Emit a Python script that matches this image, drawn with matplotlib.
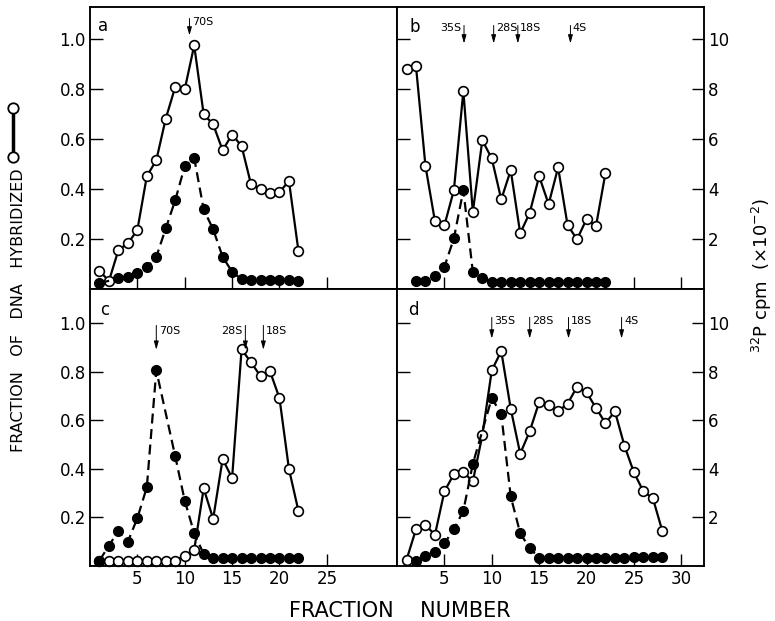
import matplotlib
matplotlib.use('Agg')
import matplotlib.pyplot as plt
from matplotlib.lines import Line2D

# ---- data ----
# open circles: fraction of DNA hybridized (left scale)
# filled circles: 32P cpm (x10^-2, right scale)

# panel a
hyb_frac_a = list(range(1, 23))
hyb_a = [0.073, 0.032, 0.156, 0.183, 0.236, 0.452, 0.516, 0.683, 0.81, 0.80, 0.976,
         0.70, 0.66, 0.556, 0.619, 0.573, 0.419, 0.40, 0.385, 0.388, 0.433, 0.153]
cpm_frac_a = [1] + list(range(3, 23))
cpm_a = [0.23, 0.43, 0.49, 0.63, 0.87, 1.29, 2.43, 3.56, 4.92, 5.25, 3.19,
         2.39, 1.29, 0.69, 0.39, 0.36, 0.36, 0.36, 0.36, 0.36, 0.32]
mk_name_a = ['70S']
mk_pos_a = [10.5]
mk_side_a = ['right']

# panel b
hyb_frac_b = list(range(1, 23))
hyb_b = [0.88, 0.893, 0.493, 0.272, 0.255, 0.396, 0.793, 0.309, 0.596, 0.523, 0.359,
         0.476, 0.223, 0.305, 0.452, 0.34, 0.487, 0.256, 0.199, 0.28, 0.252, 0.465]
cpm_frac_b = list(range(2, 23))
cpm_b = [0.32, 0.32, 0.52, 0.89, 2.03, 3.96, 0.69, 0.43, 0.29, 0.29, 0.29,
         0.29, 0.29, 0.29, 0.29, 0.29, 0.29, 0.29, 0.29, 0.29, 0.29]
mk_name_b = ['35S', '28S', '18S', '4S']
mk_pos_b = [7.07, 10.2, 12.75, 18.3]
mk_side_b = ['left', 'right', 'right', 'right']

# panel c
hyb_frac_c = list(range(1, 23))
hyb_c = [0.022, 0.022, 0.022, 0.022, 0.022, 0.022, 0.022, 0.022, 0.022, 0.043, 0.066,
         0.319, 0.194, 0.44, 0.362, 0.891, 0.838, 0.781, 0.801, 0.691, 0.399, 0.227]
cpm_frac_c = [1, 2, 3, 4, 5, 6, 7] + list(range(9, 23))
cpm_c = [0.22, 0.84, 1.44, 1.00, 1.97, 3.24, 8.05, 4.51, 2.69, 1.35, 0.49,
         0.32, 0.32, 0.32, 0.32, 0.32, 0.32, 0.32, 0.32, 0.32, 0.32]
mk_name_c = ['70S', '28S', '18S']
mk_pos_c = [7.0, 16.4, 18.3]
mk_side_c = ['right', 'left', 'right']

# panel d
hyb_frac_d = list(range(1, 29))
hyb_d = [0.025, 0.151, 0.169, 0.128, 0.307, 0.378, 0.386, 0.348, 0.537, 0.805, 0.884,
         0.647, 0.462, 0.554, 0.674, 0.661, 0.636, 0.668, 0.737, 0.715, 0.65, 0.588,
         0.636, 0.495, 0.385, 0.307, 0.279, 0.144]
cpm_frac_d = [2, 3, 4, 5, 6, 7, 8] + list(range(10, 29))
cpm_d = [0.22, 0.43, 0.59, 0.93, 1.51, 2.27, 4.2, 6.91, 6.25, 2.86, 1.35, 0.73,
         0.34, 0.34, 0.34, 0.34, 0.34, 0.34, 0.34, 0.34, 0.34, 0.34,
         0.38, 0.38, 0.38, 0.38]
mk_name_d = ['35S', '28S', '18S', '4S']
mk_pos_d = [10.0, 14.0, 18.1, 23.7]
mk_side_d = ['right', 'right', 'right', 'right']

left_ticks = [0.2, 0.4, 0.6, 0.8, 1.0]
left_ticklabels = ['0.2', '0.4', '0.6', '0.8', '1.0']
right_ticks = [2, 4, 6, 8, 10]

fig = plt.figure(figsize=(7.75, 6.21), dpi=100)

W = 0.3961
XL, XR = 0.1161, 0.5123
TB, TH = 0.5346, 0.4541
BB, BH = 0.0886, 0.4461


def panel(rect, ytop, letter, letter_xy, hx, hy, cx, cy, names, pos, sides,
          arr_top, arr_tip, txt_y, left_col, bottom_row):
    ax = fig.add_axes(rect)
    tw = ax.twinx()
    ax.set_xlim(0, 32.4)
    ax.set_ylim(0, ytop)
    tw.set_ylim(0, ytop * 10)

    ax.plot(hx, hy, color='k', lw=1.6, marker='o', ms=7, mfc='white',
            mec='k', mew=1.2, zorder=3, clip_on=False)
    tw.plot(cx, cy, color='k', lw=1.6, linestyle=(0, (4.5, 2.5)), marker='o',
            ms=7, mfc='k', mec='k', zorder=3, clip_on=False)

    ax.set_yticks(left_ticks)
    ax.set_yticklabels(left_ticklabels)
    ax.tick_params(axis='y', direction='in', length=9, width=1.0,
                   labelsize=12, pad=3, labelleft=left_col)
    if left_col:
        tw.set_yticks([])
        ax.set_xticks([5, 10, 15, 20, 25])
    else:
        tw.set_yticks(right_ticks)
        tw.tick_params(axis='y', direction='in', length=9, width=1.0,
                       labelsize=12, pad=3)
        ax.set_xticks([5, 10, 15, 20, 25, 30])
    ax.tick_params(axis='x', direction='in', length=9, width=1.0,
                   labelsize=12, pad=3, labelbottom=bottom_row)

    for a in (ax, tw):
        for sp in a.spines.values():
            sp.set_linewidth(1.1)

    # sedimentation markers
    for name, p, side in zip(names, pos, sides):
        ax.annotate('', xy=(p, arr_tip), xytext=(p, arr_top),
                    arrowprops=dict(arrowstyle='-|>,head_length=0.5,head_width=0.14',
                                    lw=0.7, color='k', shrinkA=0, shrinkB=0))
        if side == 'right':
            ax.text(p + 0.25, txt_y, name, ha='left', va='center', fontsize=8)
        else:
            ax.text(p - 0.25, txt_y, name, ha='right', va='center', fontsize=8)

    ax.text(letter_xy[0], letter_xy[1], letter, transform=ax.transAxes,
            fontsize=12, ha='center', va='center')
    return ax


panel([XL, TB, W, TH], 1.13, 'a', (0.042, 0.933), hyb_frac_a, hyb_a, cpm_frac_a, cpm_a,
      mk_name_a, mk_pos_a, mk_side_a, 1.084, 1.016, 1.07, True, False)
panel([XR, TB, W, TH], 1.13, 'b', (0.059, 0.929), hyb_frac_b, hyb_b, cpm_frac_b, cpm_b,
      mk_name_b, mk_pos_b, mk_side_b, 1.056, 0.984, 1.046, False, False)
panel([XL, BB, W, BH], 1.14, 'c', (0.049, 0.924), hyb_frac_c, hyb_c, cpm_frac_c, cpm_c,
      mk_name_c, mk_pos_c, mk_side_c, 0.99, 0.89, 0.965, True, True)
panel([XR, BB, W, BH], 1.14, 'd', (0.052, 0.924), hyb_frac_d, hyb_d, cpm_frac_d, cpm_d,
      mk_name_d, mk_pos_d, mk_side_d, 1.023, 0.936, 1.01, False, True)

# axis titles
fig.text(0.0245, 0.50, 'FRACTION   OF   DNA   HYBRIDIZED', rotation=90,
         fontsize=11.5, ha='center', va='center')
fig.add_artist(Line2D([0.0168, 0.0168], [0.826, 0.747], transform=fig.transFigure,
                      color='k', lw=2.5, marker='o', ms=7.5, mfc='white',
                      mec='k', mew=1.3))
fig.text(0.516, 0.016, 'FRACTION    NUMBER', fontsize=15, ha='center', va='center')
fig.text(0.983, 0.557, r'$^{32}$P cpm  (×10$^{-2}$)', rotation=90,
         fontsize=13, ha='center', va='center')

fig.savefig('out.png', dpi=100)
